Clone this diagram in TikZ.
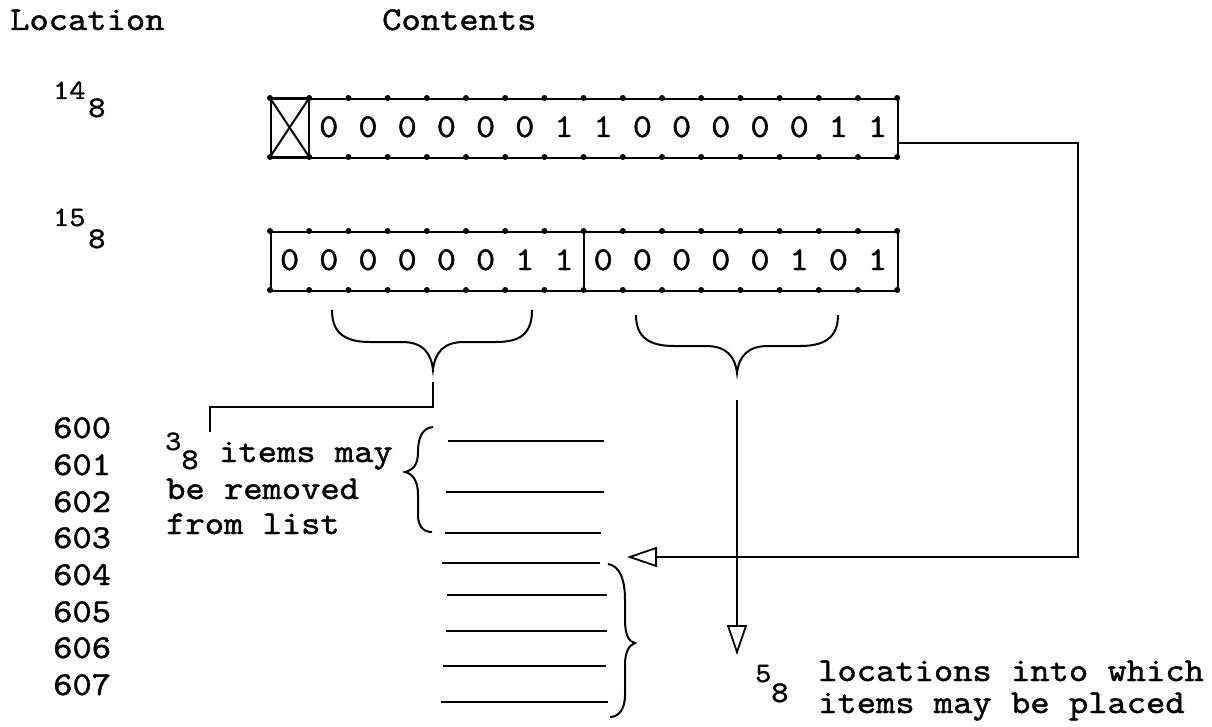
\documentclass[tikz,border=0pt]{standalone}
\usepackage{fontspec}
\newfontfamily\tw{lmmono10-regular.otf}[FakeStretch=1.1, FakeBold=1.2]
\usetikzlibrary{arrows.meta}
\tikzset{
  txt/.style={font=\tw\fontsize{33.4}{36}\selectfont, inner sep=0pt, anchor=base west},
  sup/.style={font=\tw\fontsize{28}{30}\selectfont, inner sep=0pt, anchor=base west},
  sub/.style={font=\tw\fontsize{30}{32}\selectfont, inner sep=0pt, anchor=base west},
  bit/.style={font=\tw\fontsize{33.4}{36}\selectfont, inner sep=0pt, anchor=base},
  wordbox/.style={draw, line width=1.8pt, inner sep=0pt, minimum width=627.2pt, minimum height=59pt, anchor=north west},
  wire/.style={line width=2.4pt},
  thin/.style={line width=2pt},
  hollow/.style={-{Triangle[open, length=30pt, width=20pt, line width=1.8pt]}},
}
\begin{document}
\begin{tikzpicture}[x=1pt,y=-1pt]
\useasboundingbox (0,0) rectangle (1212,727);
% headings
\node[txt] (hloc) at (10,30) {Location};
\node[txt] (hcon) at (382,30) {Contents};
% location labels
\node[sup] (l14) at (53,99) {14};
\node[sub] (l14s) at (88,117) {8};
\node[sup] (l15) at (53,226) {15};
\node[sub] (l15s) at (88,248) {8};
% word boxes
\node[wordbox] (box1) at (270,98) {};
\node[wordbox] (box2) at (270,231) {};
% X cell
\draw[thin] (270,98) -- (309.2,98) -- (309.2,157) -- (270,157);
\draw[thin] (270,98) -- (309.2,157);
\draw[thin] (309.2,98) -- (270,157);
% divider box2
\draw[thin] (583.6,231) -- (583.6,290);
% bits
\foreach \d [count=\i] in {0,0,0,0,0,0,1,1,0,0,0,0,0,1,1}
  \node[bit] (a\i) at ({270+39.2*(\i+0.5)},137) {\d};
\foreach \d [count=\i from 0] in {0,0,0,0,0,0,1,1,0,0,0,0,0,1,0,1}
  \node[bit] (b\i) at ({270+39.2*(\i+0.5)},270) {\d};
% dots
\foreach \i in {0,...,16}{
  \fill ({270+39.2*\i},98) circle (3pt);
  \fill ({270+39.2*\i},157) circle (3pt);
  \fill ({270+39.2*\i},231) circle (3pt);
  \fill ({270+39.2*\i},290) circle (3pt);
}
% braces under box2
\draw[thin] (332,310) .. controls (332,334) and (346,342) .. (370,342) -- (402,342)
  .. controls (422,342) and (431,352) .. (433,370)
  .. controls (435,352) and (444,342) .. (464,342) -- (496,342)
  .. controls (520,342) and (532,334) .. (532,310);
\draw[thin] (636,315) .. controls (636,338) and (650,346) .. (674,346) -- (706,346)
  .. controls (726,346) and (735,356) .. (737,373)
  .. controls (739,356) and (748,346) .. (768,346) -- (800,346)
  .. controls (824,346) and (838,338) .. (838,315);
% connector from left brace
\coordinate (lbt) at (433,382);
\coordinate (lbc) at (433,407);
\coordinate (lbe) at (210,432);
\draw[wire] (lbt) -- (lbc) -| (lbe);
% arrow from right brace
\coordinate (rbt) at (737,400);
\coordinate (rba) at (737,655);
\draw[wire, hollow] (rbt) -- (rba);
% connector from box1
\coordinate (c1) at (897,143);
\coordinate (turn) at (1078,557);
\coordinate (tipA) at (627,557);
\draw[wire, hollow] (c1) -| (turn) -- (tipA);
% list lines
\foreach \y/\xa/\xb in {441/448/604, 492/446/604, 533/445/601, 563/442/600, 595/447/607, 631/446/607, 666/443/606, 702/441/608}
  \draw[wire] (\xa,\y) -- (\xb,\y);
% small left brace
\draw[thin] (433,427) .. controls (421,428) and (418,440) .. (418,452)
  .. controls (418,465) and (413,470) .. (405,472)
  .. controls (413,474) and (418,481) .. (418,495) -- (418,515)
  .. controls (418,527) and (424,532) .. (432,532);
% lower right brace
\draw[thin] (608,564) .. controls (620,566) and (625,580) .. (625,600) -- (625,620)
  .. controls (625,635) and (629,642) .. (635,643)
  .. controls (629,645) and (625,652) .. (625,665) -- (625,695)
  .. controls (625,710) and (618,717) .. (610,717);
% addresses
\foreach \t/\y in {600/438, 601/475, 602/512, 603/548, 604/585, 605/622, 606/658, 607/695}
  \node[txt] (loc\t) at (53,\y) {\t};
% left annotation
\node[sup] (n3) at (165,450) {3\raisebox{-19pt}{\fontsize{30}{32}\selectfont 8}};
\node[txt] (rm1) at (219,462) {items may};
\node[txt] (rm2) at (166,499) {be removed};
\node[txt] (rm3) at (166,534) {from list};
% right annotation
\node[sup] (n5) at (755,682) {5};
\node[sub] (n5s) at (771,702) {8};
\node[txt] (pl1) at (818,681) {locations into which};
\node[txt] (pl2) at (818,713) {items may be placed};
\end{tikzpicture}
\end{document}
